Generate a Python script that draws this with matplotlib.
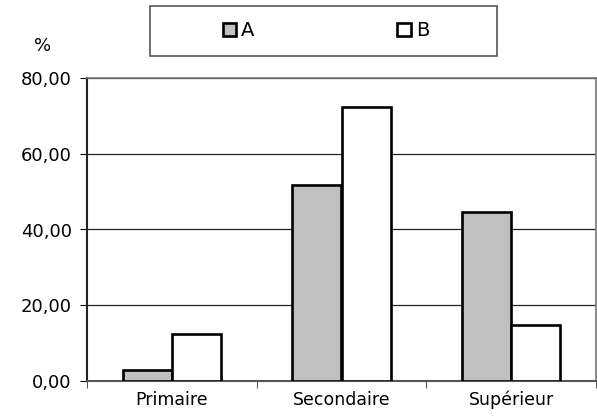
import numpy as np
import matplotlib
matplotlib.use('Agg')
import matplotlib.pyplot as plt
from matplotlib.patches import Rectangle
from matplotlib.ticker import FuncFormatter

# Donnees
categories = ['Primaire', 'Secondaire', 'Supérieur']
serie_a = [2.8, 51.7, 44.6]
serie_b = [12.5, 72.4, 14.7]
noms = ['A', 'B']

plt.rcParams['font.family'] = ['DejaVu Sans']

fig = plt.figure(figsize=(5.97, 4.19), dpi=100)
ax = fig.add_axes([87 / 597, 1 - 381 / 419, 509 / 597, 303 / 419])

x = np.arange(len(categories))
w = 0.29
ax.bar(x - w / 2, serie_a, w, color='#c0c0c0', edgecolor='black', linewidth=1.9, label=noms[0], zorder=3)
ax.bar(x + w / 2, serie_b, w, color='white', edgecolor='black', linewidth=1.9, label=noms[1], zorder=3)

ax.set_xlim(-0.5, 2.5)
ax.set_ylim(0, 80)
ax.set_yticks([0, 20, 40, 60, 80])
ax.yaxis.set_major_formatter(FuncFormatter(lambda v, p: f"{v:.2f}".replace('.', ',')))
ax.grid(axis='y', color='#222222', linewidth=0.9, zorder=0)

ax.set_xticks(x)
ax.set_xticklabels(categories, fontsize=12.5)
ax.set_xticks([-0.5, 0.5, 1.5, 2.5], minor=True)
ax.tick_params(axis='x', which='major', length=0, pad=7)
ax.tick_params(axis='x', which='minor', length=5, direction='out', color='#333333')
ax.tick_params(axis='y', length=5, direction='out', labelsize=13, pad=6)

for s in ['top', 'right']:
    ax.spines[s].set_color('#777777')
    ax.spines[s].set_linewidth(1.2)
ax.spines['left'].set_color('#222222')
ax.spines['left'].set_linewidth(1.5)
ax.spines['bottom'].set_color('#555555')
ax.spines['bottom'].set_linewidth(1.5)

fig.text(43 / 597, 1 - 46 / 419, '%', fontsize=13, ha='center', va='center')

# cadre de la legende
fig.patches.append(Rectangle((150 / 597, 1 - 56 / 419), 347 / 597, 50 / 419,
                             transform=fig.transFigure, facecolor='white',
                             edgecolor='#555555', linewidth=1.2))
fig.legend(loc='center', bbox_to_anchor=(326 / 597, 1 - 31 / 419), ncol=2, frameon=False,
           fontsize=14, handlelength=0.7, handleheight=0.7, handletextpad=0.25,
           columnspacing=7.35)

fig.savefig('out.png', dpi=100)
